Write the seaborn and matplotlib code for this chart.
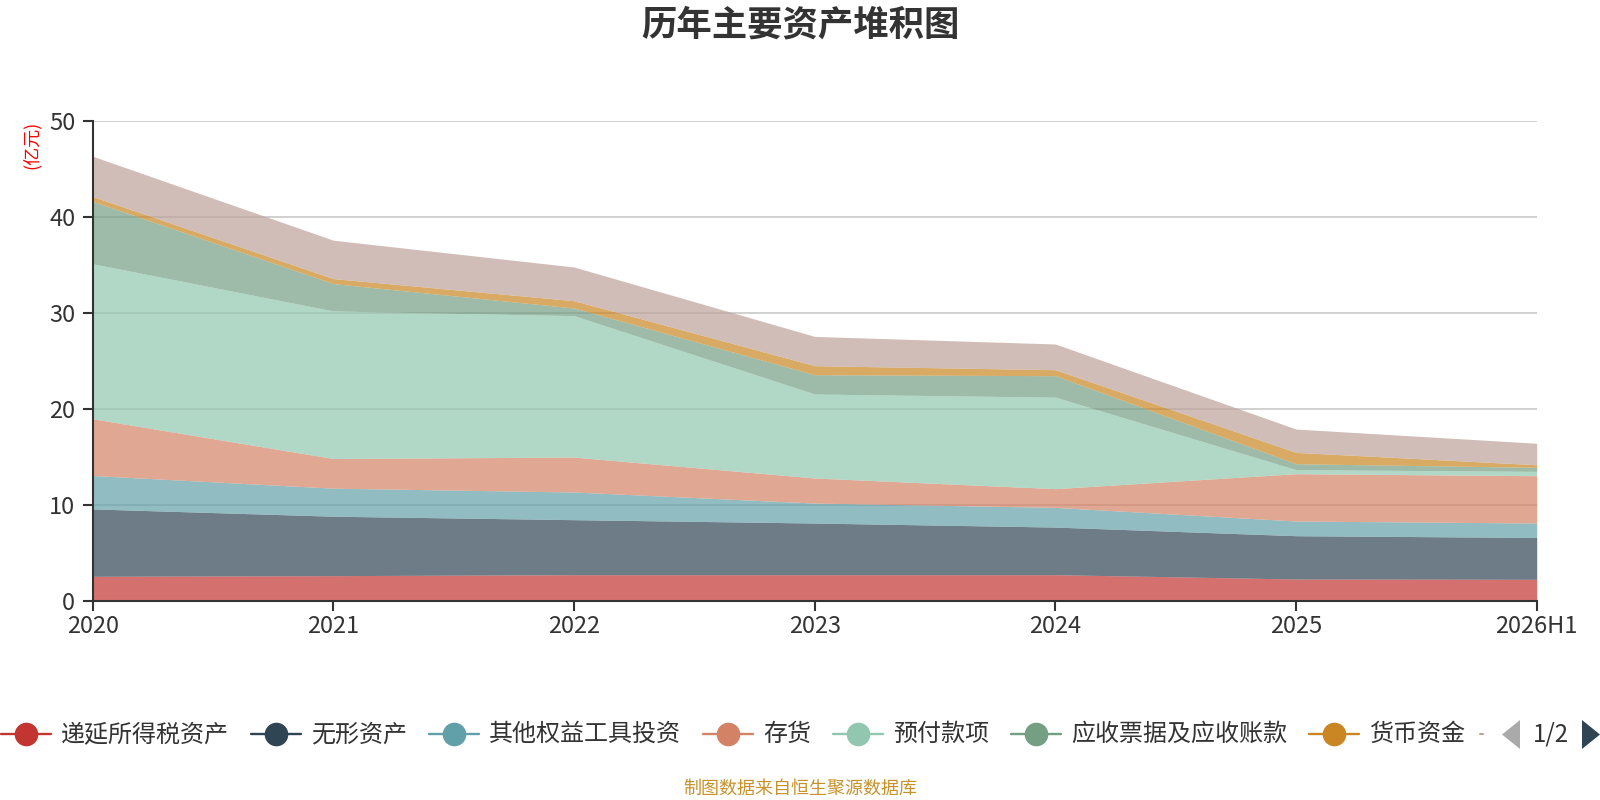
import numpy as np
import pandas as pd
import matplotlib
matplotlib.use("Agg")
import matplotlib.pyplot as plt
from matplotlib.lines import Line2D
from matplotlib.patches import Polygon
import seaborn as sns

# data (亿元), one layer per series
years = ['2020', '2021', '2022', '2023', '2024', '2025', '2026H1']
names = ['递延所得税资产', '无形资产', '其他权益工具投资', '存货', '预付款项',
         '应收票据及应收账款', '货币资金']
deferred_tax = [2.54, 2.61, 2.71, 2.71, 2.71, 2.26, 2.23]
intangible = [7.02, 6.19, 5.73, 5.38, 4.96, 4.51, 4.36]
other_equity = [3.48, 2.92, 2.88, 2.08, 2.05, 1.53, 1.50]
inventory = [5.91, 3.09, 3.64, 2.61, 1.95, 4.93, 4.93]
prepaid = [16.15, 15.37, 14.73, 8.75, 9.53, 0.42, 0.45]
receivables = [6.50, 2.85, 0.80, 2.01, 2.24, 0.62, 0.42]
cash = [0.50, 0.52, 0.76, 0.94, 0.62, 1.18, 0.27]
page2_series = [4.20, 4.00, 3.51, 3.05, 2.68, 2.43, 2.24]  # 8th series, legend on page 2

colors = ['#c23531', '#2f4554', '#61a0a8', '#d48265', '#91c7ae', '#749f83', '#ca8622', '#bda29a']

df = pd.DataFrame({
    'deferred_tax': deferred_tax, 'intangible': intangible, 'other_equity': other_equity,
    'inventory': inventory, 'prepaid': prepaid, 'receivables': receivables,
    'cash': cash, 'page2': page2_series}, index=years)

sns.set_theme(style='white')
plt.rcParams['font.family'] = ['Noto Sans CJK SC', 'DejaVu Sans']
plt.rcParams['axes.unicode_minus'] = False

W, H = 1600, 800
fig = plt.figure(figsize=(16, 8), dpi=100)
left, right, top, bottom = 92.7, 1536.7, 120.7, 600.7
ax = fig.add_axes([left / W, 1 - bottom / H, (right - left) / W, (bottom - top) / H])

x = np.arange(len(years))
ax.stackplot(x, df.T.values, colors=colors, alpha=0.7, linewidth=0, zorder=2)

ax.set_xlim(0, len(years) - 1)
ax.set_ylim(0, 50)
ax.set_xticks(x)
ax.set_xticklabels(years)
ax.set_yticks(range(0, 51, 10))
ax.grid(axis='y', color='#c8c8c8', linewidth=1.2, zorder=0)
ax.grid(axis='x', visible=False)
ax.set_axisbelow(True)
for s in ['top', 'right']:
    ax.spines[s].set_visible(False)
for s in ['left', 'bottom']:
    ax.spines[s].set_color('#333333')
    ax.spines[s].set_linewidth(1.5)
    ax.spines[s].set_zorder(3)
ax.tick_params(axis='both', colors='#333333', labelsize=17, length=7.5, width=1.5,
               direction='out', labelcolor='#333333')
ax.tick_params(axis='x', pad=3)
ax.tick_params(axis='y', pad=5)
ax.tick_params(left=True, bottom=True)

# unit label
fig.text(32 / W, 1 - 145 / H, '(亿元)', rotation=90, color='#ff0000', fontsize=13,
         ha='center', va='center')

# title
fig.text(0.5, 1 - 25 / H, '历年主要资产堆积图', ha='center', va='center',
         fontsize=25.5, fontweight='bold', color='#333333')

# legend (page 1 of 2), drawn by hand in pixel coordinates
renderer = fig.canvas.get_renderer()
ly = 1 - 734 / H
xpos = 1
for name, c in zip(names, colors):
    fig.add_artist(Line2D([xpos / W, (xpos + 50) / W], [ly, ly], color=c, linewidth=1.7,
                          transform=fig.transFigure))
    fig.add_artist(Line2D([(xpos + 25) / W], [ly], marker='o', markersize=17, color=c,
                          markeredgewidth=0, transform=fig.transFigure))
    t = fig.text((xpos + 60) / W, ly, name, fontsize=17.3, color='#333333',
                 ha='left', va='center')
    bb = t.get_window_extent(renderer)
    xpos = bb.x1 + 22
fig.add_artist(Line2D([1480 / W, 1483 / W], [ly, ly], color='#bda29a', linewidth=1.5,
                      transform=fig.transFigure))

# pager
def px(pts):
    return [(a / W, 1 - b / H) for a, b in pts]

fig.add_artist(Polygon(px([(1520, 720), (1520, 749), (1502, 734.5)]), closed=True,
                       facecolor='#aaaaaa', edgecolor='none', transform=fig.transFigure))
fig.text(1551 / W, ly, '1/2', fontsize=17.3, color='#333333', ha='center', va='center')
fig.add_artist(Polygon(px([(1582, 720), (1582, 749), (1600, 734.5)]), closed=True,
                       facecolor='#2f4554', edgecolor='none', transform=fig.transFigure))

# source note
fig.text(0.5, 1 - 789 / H, '制图数据来自恒生聚源数据库', ha='center', va='center',
         fontsize=13, color='#c8922a')

fig.savefig('out.png', dpi=100)
